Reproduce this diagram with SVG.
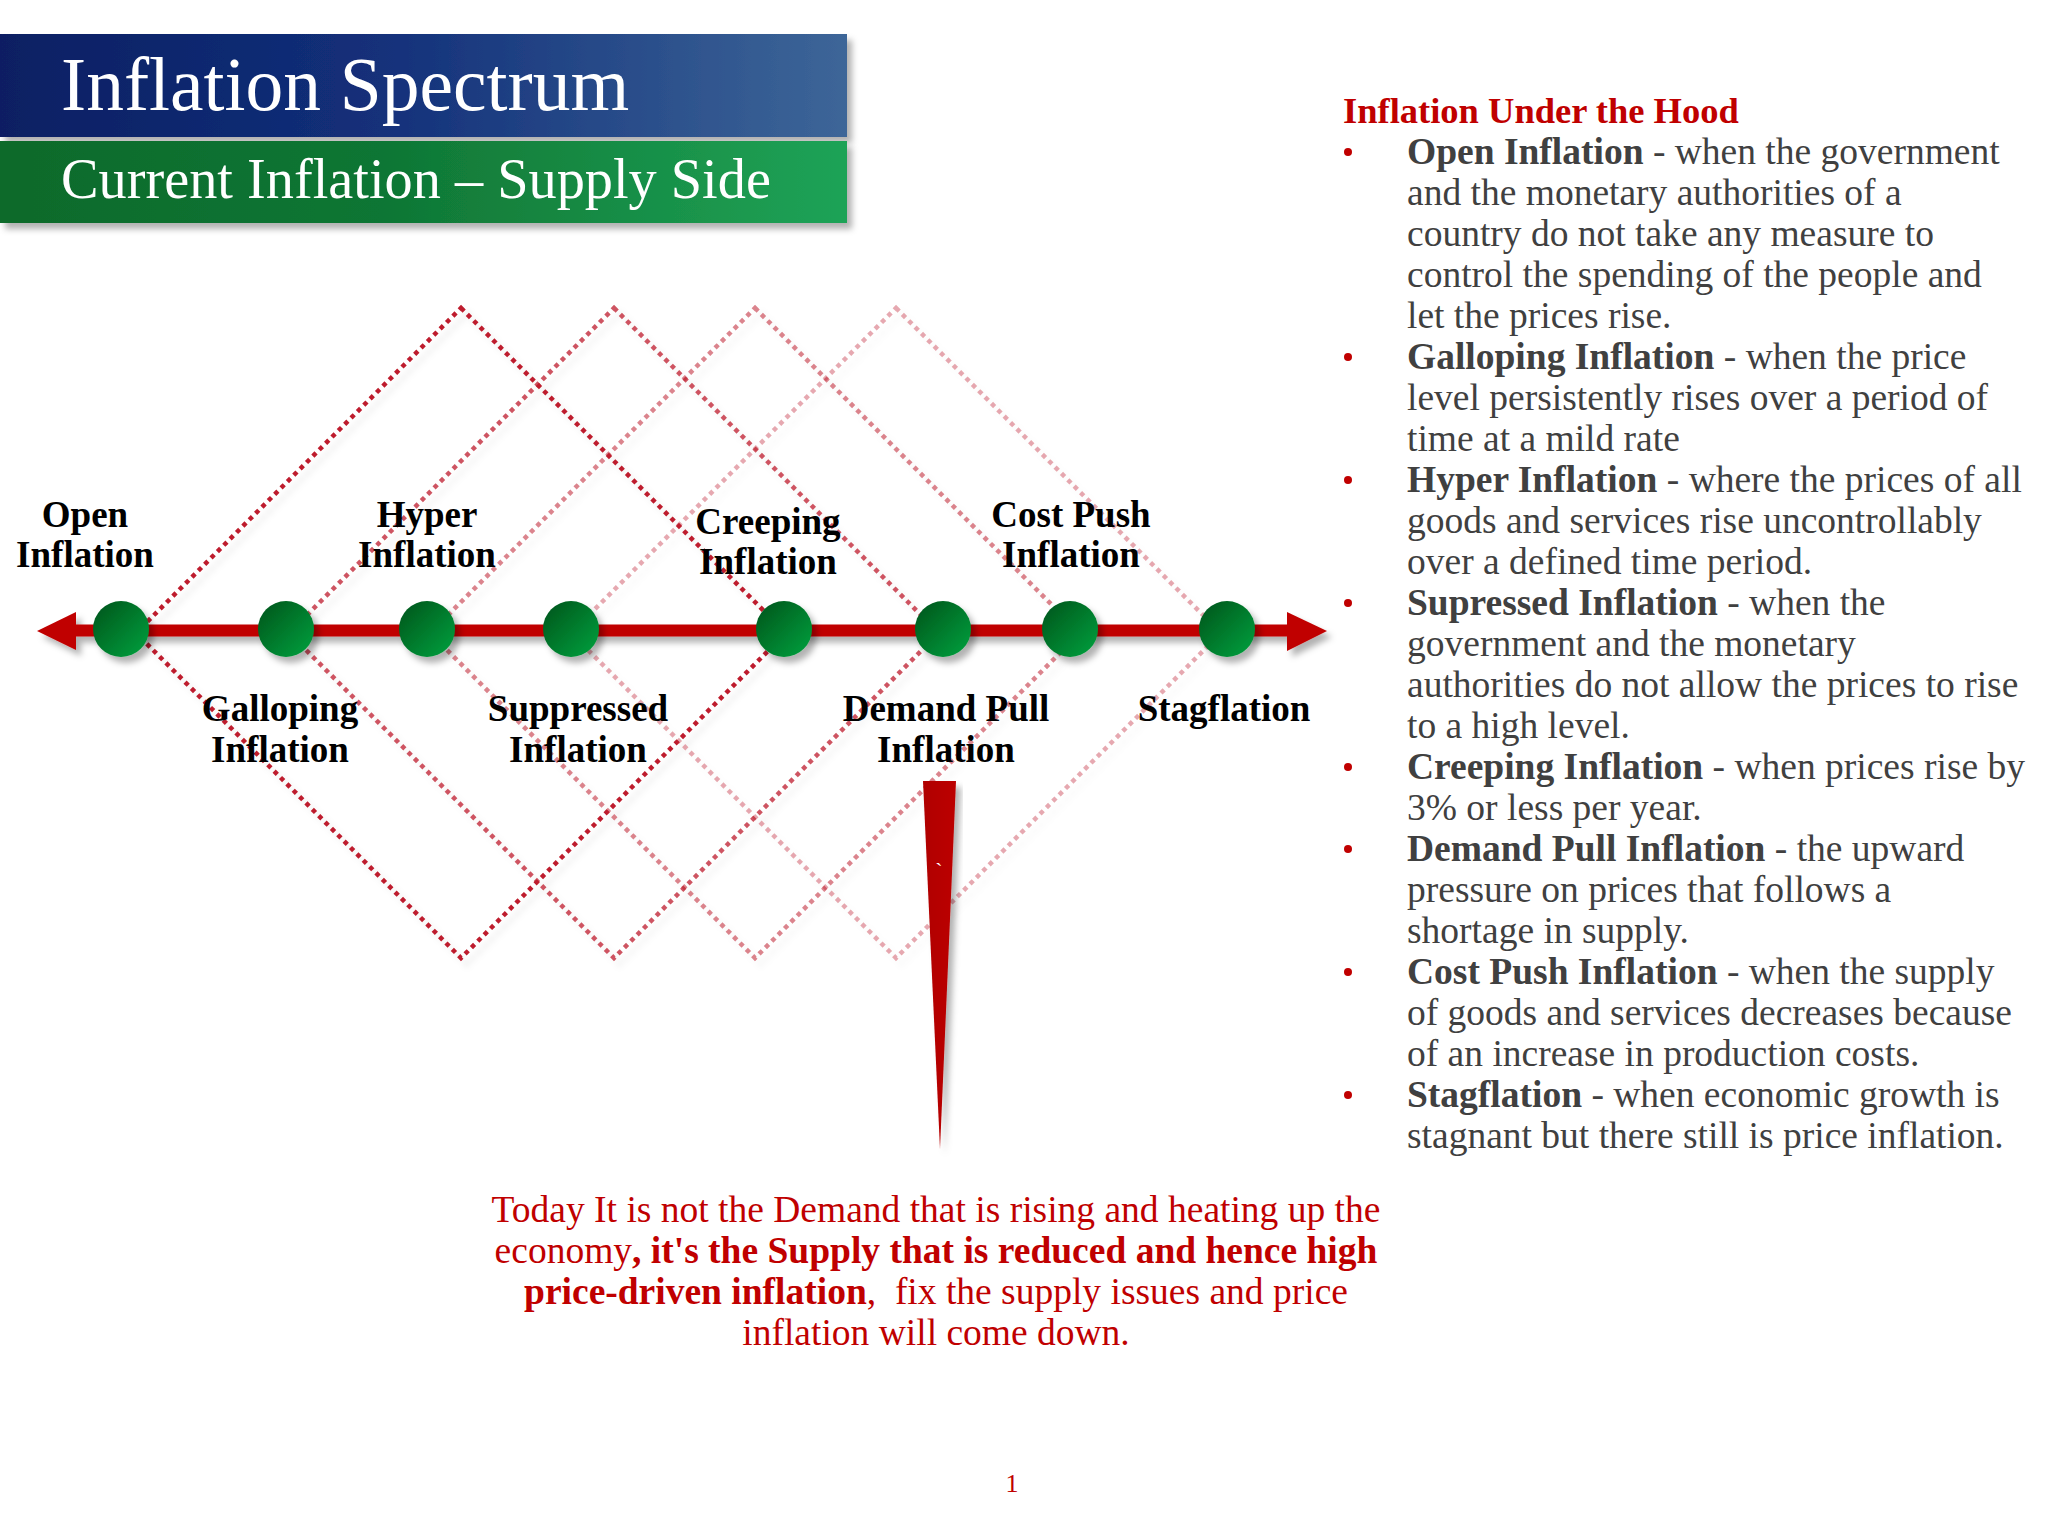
<svg xmlns="http://www.w3.org/2000/svg" width="2048" height="1536" viewBox="0 0 2048 1536">
<defs>
  <linearGradient id="blueBar" x1="0" y1="0" x2="1" y2="0">
    <stop offset="0" stop-color="#0A1F63"/>
    <stop offset="0.45" stop-color="#13307A"/>
    <stop offset="1" stop-color="#3D6698"/>
  </linearGradient>
  <linearGradient id="greenBar" x1="0" y1="0" x2="1" y2="0">
    <stop offset="0" stop-color="#0B6A2B"/>
    <stop offset="0.45" stop-color="#0F7634"/>
    <stop offset="1" stop-color="#1FA357"/>
  </linearGradient>
  <linearGradient id="ball" x1="0" y1="0" x2="1" y2="1">
    <stop offset="0" stop-color="#04531A"/>
    <stop offset="1" stop-color="#00A23F"/>
  </linearGradient>
  <linearGradient id="wedgeGrad" x1="0" y1="0" x2="1" y2="0">
    <stop offset="0" stop-color="#B00000"/>
    <stop offset="1" stop-color="#BC0000"/>
  </linearGradient>
  <filter id="sh" x="-20%" y="-20%" width="140%" height="160%">
    <feDropShadow dx="5" dy="6" stdDeviation="3" flood-color="#000" flood-opacity="0.3"/>
  </filter>
  <filter id="shBar" x="-5%" y="-20%" width="110%" height="150%">
    <feDropShadow dx="5" dy="6" stdDeviation="3" flood-color="#000" flood-opacity="0.3"/>
  </filter>
  <filter id="shLight" x="-10%" y="-10%" width="120%" height="120%">
    <feDropShadow dx="6" dy="6" stdDeviation="3" flood-color="#000" flood-opacity="0.1"/>
  </filter>
  <style>
    .dia { fill: none; stroke: #BE1E2D; stroke-width: 4.5; stroke-dasharray: 4.5 4.5; }
    .lbl { font-family: "Liberation Serif", "Times New Roman", serif; font-weight: bold; font-size: 37px; fill: #000; text-anchor: middle; }
    .head { font-family: "Liberation Serif", "Times New Roman", serif; font-weight: bold; font-size: 36.5px; fill: #C00000; }
    .body { font-family: "Liberation Serif", "Times New Roman", serif; font-size: 37.5px; fill: #404040; }
    .b { font-weight: bold; }
    .bul { fill: #C00000; }
    .foot { font-family: "Liberation Serif", "Times New Roman", serif; font-size: 37.5px; fill: #C00000; text-anchor: middle; }
    .title { font-family: "Liberation Serif", "Times New Roman", serif; fill: #FFFFFF; }
  </style>
</defs>

<rect x="0" y="0" width="2048" height="1536" fill="#FFFFFF"/>

<!-- Title bars -->
<g id="title">
  <rect x="0" y="34" width="847" height="103" fill="url(#blueBar)" filter="url(#shBar)"/>
  <rect x="0" y="141" width="847" height="82" fill="url(#greenBar)" filter="url(#shBar)"/>
  <text class="title" x="61" y="110" font-size="75.5">Inflation Spectrum</text>
  <text class="title" x="61" y="198" font-size="56.3">Current Inflation – Supply Side</text>
</g>

<!-- Connectors: dotted diamonds and axis -->
<g id="connectors">
  <g filter="url(#shLight)">
    <path class="dia" d="M896,308 L1221,633 L896,958 L571,633 Z" stroke-opacity="0.38"/>
    <path class="dia" d="M755,308 L1080,633 L755,958 L430,633 Z" stroke-opacity="0.55"/>
    <path class="dia" d="M614,308 L939,633 L614,958 L289,633 Z" stroke-opacity="0.75"/>
    <path class="dia" d="M461,308 L786,633 L461,958 L136,633 Z"/>
  </g>
  <g id="axis" filter="url(#sh)" fill="#C00000">
    <rect x="74" y="624.5" width="1215" height="12"/>
    <polygon points="37,631 76,612 76,650"/>
    <polygon points="1327,631 1287,612 1287,651"/>
  </g>
</g>

<!-- Spectrum nodes -->
<g id="node-open">
  <circle cx="121" cy="629" r="28" fill="url(#ball)" filter="url(#sh)"/>
  <text class="lbl" x="85" y="527">Open</text>
  <text class="lbl" x="85" y="567">Inflation</text>
</g>
<g id="node-galloping">
  <circle cx="286" cy="629" r="28" fill="url(#ball)" filter="url(#sh)"/>
  <text class="lbl" x="280" y="721">Galloping</text>
  <text class="lbl" x="280" y="762">Inflation</text>
</g>
<g id="node-hyper">
  <circle cx="427" cy="629" r="28" fill="url(#ball)" filter="url(#sh)"/>
  <text class="lbl" x="427" y="527">Hyper</text>
  <text class="lbl" x="427" y="567">Inflation</text>
</g>
<g id="node-suppressed">
  <circle cx="571" cy="629" r="28" fill="url(#ball)" filter="url(#sh)"/>
  <text class="lbl" x="578" y="721">Suppressed</text>
  <text class="lbl" x="578" y="762">Inflation</text>
</g>
<g id="node-creeping">
  <circle cx="784" cy="629" r="28" fill="url(#ball)" filter="url(#sh)"/>
  <text class="lbl" x="768" y="534">Creeping</text>
  <text class="lbl" x="768" y="574">Inflation</text>
</g>
<g id="node-demandpull">
  <circle cx="943" cy="629" r="28" fill="url(#ball)" filter="url(#sh)"/>
  <text class="lbl" x="946" y="721">Demand Pull</text>
  <text class="lbl" x="946" y="762">Inflation</text>
</g>
<g id="node-costpush">
  <circle cx="1070" cy="629" r="28" fill="url(#ball)" filter="url(#sh)"/>
  <text class="lbl" x="1071" y="527">Cost Push</text>
  <text class="lbl" x="1071" y="567">Inflation</text>
</g>
<g id="node-stagflation">
  <circle cx="1227" cy="629" r="28" fill="url(#ball)" filter="url(#sh)"/>
  <text class="lbl" x="1224" y="721">Stagflation</text>
</g>

<!-- Red wedge pointer -->
<g id="wedge">
  <polygon points="923,781 956,781 940,1149" fill="url(#wedgeGrad)" filter="url(#sh)"/>
  <text x="939" y="878" font-family="Liberation Serif, serif" font-size="22" fill="#FFFFFF" text-anchor="middle">`</text>
</g>

<!-- Right panel -->
<g id="legend">
  <text class="head" x="1343" y="123">Inflation Under the Hood</text>
  <g class="bul">
    <circle cx="1348" cy="152" r="4"/>
    <circle cx="1348" cy="357" r="4"/>
    <circle cx="1348" cy="480" r="4"/>
    <circle cx="1348" cy="603" r="4"/>
    <circle cx="1348" cy="767" r="4"/>
    <circle cx="1348" cy="849" r="4"/>
    <circle cx="1348" cy="972" r="4"/>
    <circle cx="1348" cy="1095" r="4"/>
  </g>
  <text class="body" x="1407" y="164"><tspan class="b">Open Inflation</tspan> - when the government</text>
  <text class="body" x="1407" y="205">and the monetary authorities of a</text>
  <text class="body" x="1407" y="246">country do not take any measure to</text>
  <text class="body" x="1407" y="287">control the spending of the people and</text>
  <text class="body" x="1407" y="328">let the prices rise.</text>
  <text class="body" x="1407" y="369"><tspan class="b">Galloping Inflation</tspan> - when the price</text>
  <text class="body" x="1407" y="410">level persistently rises over a period of</text>
  <text class="body" x="1407" y="451">time at a mild rate</text>
  <text class="body" x="1407" y="492"><tspan class="b">Hyper Inflation</tspan> - where the prices of all</text>
  <text class="body" x="1407" y="533">goods and services rise uncontrollably</text>
  <text class="body" x="1407" y="574">over a defined time period.</text>
  <text class="body" x="1407" y="615"><tspan class="b">Supressed Inflation</tspan> - when the</text>
  <text class="body" x="1407" y="656">government and the monetary</text>
  <text class="body" x="1407" y="697">authorities do not allow the prices to rise</text>
  <text class="body" x="1407" y="738">to a high level.</text>
  <text class="body" x="1407" y="779"><tspan class="b">Creeping Inflation</tspan> - when prices rise by</text>
  <text class="body" x="1407" y="820">3% or less per year.</text>
  <text class="body" x="1407" y="861"><tspan class="b">Demand Pull Inflation</tspan> - the upward</text>
  <text class="body" x="1407" y="902">pressure on prices that follows a</text>
  <text class="body" x="1407" y="943">shortage in supply.</text>
  <text class="body" x="1407" y="984"><tspan class="b">Cost Push Inflation</tspan> - when the supply</text>
  <text class="body" x="1407" y="1025">of goods and services decreases because</text>
  <text class="body" x="1407" y="1066">of an increase in production costs.</text>
  <text class="body" x="1407" y="1107"><tspan class="b">Stagflation</tspan> - when economic growth is</text>
  <text class="body" x="1407" y="1148">stagnant but there still is price inflation.</text>
</g>

<!-- Bottom note -->
<g id="note">
  <text class="foot" x="936" y="1222">Today It is not the Demand that is rising and heating up the</text>
  <text class="foot" x="936" y="1263">economy<tspan class="b">, it's the Supply that is reduced and hence high</tspan></text>
  <text class="foot" x="936" y="1304"><tspan class="b">price-driven inflation</tspan>,&#160; fix the supply issues and price</text>
  <text class="foot" x="936" y="1345">inflation will come down.</text>
  <text x="1012" y="1492" font-family="Liberation Serif, serif" font-size="26" fill="#C00000" text-anchor="middle">1</text>
</g>
</svg>
